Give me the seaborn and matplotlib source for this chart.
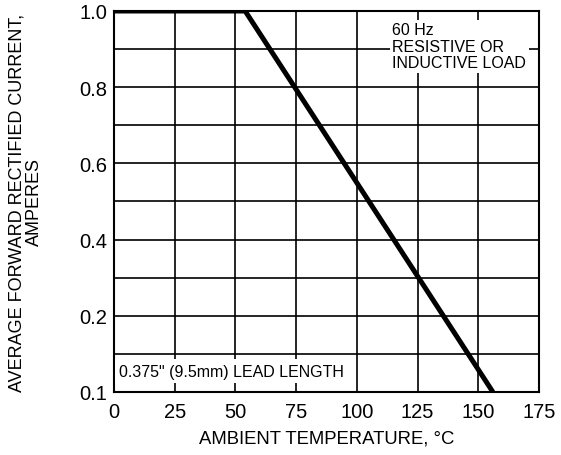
import numpy as np
import pandas as pd
import seaborn as sns
from matplotlib import pyplot as plt

# derating curve
temperature = [0, 54, 156]
current = [1.0, 1.0, 0.1]

x_ticks = [0, 25, 50, 75, 100, 125, 150, 175]
y_ticks = [0.1, 0.2, 0.4, 0.6, 0.8, 1.0]
y_tick_labels = ["0.1", "0.2", "0.4", "0.6", "0.8", "1.0"]
y_grid = [0.15, 0.2, 0.3, 0.4, 0.5, 0.6, 0.7, 0.8, 0.9]


# the bottom decade 0.1..0.2 gets the same height as one 0.2 step above it
def fwd(y):
    y = np.asarray(y, dtype=float)
    return np.where(y >= 0.2, y, 0.2 - (0.2 - y) * 2)


def inv(v):
    v = np.asarray(v, dtype=float)
    return np.where(v >= 0.2, v, 0.2 - (0.2 - v) / 2)


sns.set_style("white")
plt.rcParams['font.family'] = ['Liberation Sans', 'DejaVu Sans']
plt.rcParams['text.color'] = 'black'
plt.rcParams['axes.labelcolor'] = 'black'
plt.rcParams['xtick.color'] = 'black'
plt.rcParams['ytick.color'] = 'black'

df = pd.DataFrame({"temp": temperature, "amps": current})

fig = plt.figure(figsize=(5.61, 4.56), dpi=100)
ax = fig.add_axes([0.2032, 0.1382, 0.7576, 0.8355])
ax.set_yscale('function', functions=(fwd, inv))

for g in y_grid:
    ax.axhline(g, color='black', lw=1.2, zorder=1)
for t in x_ticks[1:-1]:
    ax.axvline(t, color='black', lw=1.2, zorder=1)

sns.lineplot(data=df, x="temp", y="amps", color='black', lw=3.6,
             ax=ax, zorder=4, solid_capstyle='butt')

ax.set_xlim(0, 175)
ax.set_ylim(0.1, 1.0)
ax.set_xticks(x_ticks)
ax.set_yticks(y_ticks)
ax.set_yticklabels(y_tick_labels)
ax.minorticks_off()
ax.tick_params(axis='both', length=0, labelsize=14.5)
ax.tick_params(axis='x', pad=7)
ax.tick_params(axis='y', pad=5)

for s in ax.spines.values():
    s.set_color('black')
    s.set_linewidth(1.5)

ax.set_xlabel('AMBIENT TEMPERATURE, °C', fontsize=13.3, labelpad=6)
ax.set_ylabel('AVERAGE FORWARD RECTIFIED CURRENT,\nAMPERES', fontsize=13,
              labelpad=26, linespacing=1.05)

ax.text(0.655, 0.97, '60 Hz\nRESISTIVE OR\nINDUCTIVE LOAD', transform=ax.transAxes,
        ha='left', va='top', fontsize=11.5, linespacing=1.1, zorder=3,
        bbox=dict(facecolor='white', edgecolor='none', pad=2))
ax.text(0.012, 0.055, '0.375" (9.5mm) LEAD LENGTH', transform=ax.transAxes,
        ha='left', va='center', fontsize=11.5, zorder=3,
        bbox=dict(facecolor='white', edgecolor='none', pad=3))

plt.savefig('out.png', dpi=100)
